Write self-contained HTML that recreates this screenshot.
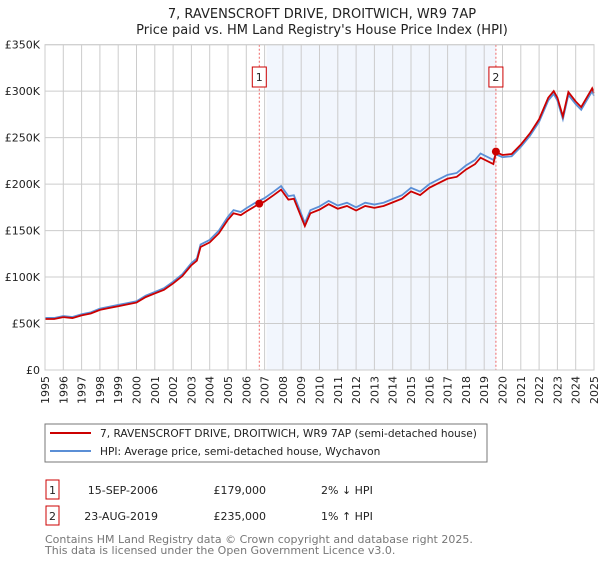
<!DOCTYPE html>
<html><head><meta charset="utf-8"><style>
body{margin:0;background:#fff;font-family:"DejaVu Sans","Liberation Sans",sans-serif;}
svg text{font-family:"DejaVu Sans","Liberation Sans",sans-serif;}
</style></head><body>
<svg id="c" width="600" height="560" xmlns="http://www.w3.org/2000/svg">
<text x="322" y="18" font-size="13" text-anchor="middle" fill="#222">7, RAVENSCROFT DRIVE, DROITWICH, WR9 7AP</text>
<text x="322" y="34" font-size="13" text-anchor="middle" fill="#222">Price paid vs. HM Land Registry's House Price Index (HPI)</text>
<g id="plot"></g>
<rect x="45" y="424" width="442" height="38" fill="#fff" stroke="#777" stroke-width="1"/>
<line x1="50" y1="433" x2="91" y2="433" stroke="#cc0000" stroke-width="2"/>
<text x="100" y="437" font-size="10.6" fill="#222">7, RAVENSCROFT DRIVE, DROITWICH, WR9 7AP (semi-detached house)</text>
<line x1="50" y1="451" x2="91" y2="451" stroke="#5b8fd6" stroke-width="2"/>
<text x="100" y="455" font-size="10.6" fill="#222">HPI: Average price, semi-detached house, Wychavon</text>
<g font-size="11" fill="#222">
<rect x="46" y="480" width="13" height="19" fill="#fff" stroke="#cc0000"/>
<text x="52.5" y="494" text-anchor="middle">1</text>
<text x="158" y="494" text-anchor="end">15-SEP-2006</text>
<text x="266" y="494" text-anchor="end">£179,000</text>
<text x="321" y="494">2% ↓ HPI</text>
</g>
<g font-size="11" fill="#222">
<rect x="46" y="506" width="13" height="19" fill="#fff" stroke="#cc0000"/>
<text x="52.5" y="520" text-anchor="middle">2</text>
<text x="158" y="520" text-anchor="end">23-AUG-2019</text>
<text x="266" y="520" text-anchor="end">£235,000</text>
<text x="321" y="520">1% ↑ HPI</text>
</g>
<text x="45" y="543" font-size="11" fill="#777">Contains HM Land Registry data © Crown copyright and database right 2025.</text>
<text x="45" y="554" font-size="11" fill="#777">This data is licensed under the Open Government Licence v3.0.</text>
</svg>
<script>
const hpiYears=[1995,1995.5,1996,1996.5,1997,1997.5,1998,1998.5,1999,1999.5,2000,2000.5,2001,2001.5,2002,2002.5,2003,2003.3,2003.5,2004,2004.5,2005,2005.3,2005.7,2006,2006.5,2007,2007.5,2007.9,2008.3,2008.6,2009,2009.2,2009.5,2010,2010.5,2011,2011.5,2012,2012.5,2013,2013.5,2014,2014.5,2015,2015.5,2016,2016.5,2017,2017.5,2018,2018.5,2018.8,2019.5,2019.64,2020,2020.5,2021,2021.5,2022,2022.5,2022.8,2023,2023.3,2023.6,2024,2024.3,2024.6,2024.9,2025];
const hpiValues=[56,56,58,57,60,62,66,68,70,72,74,80,84,88,95,103,115,120,135,140,150,165,172,170,174,180,185,192,198,187,188,168,158,172,176,182,177,180,175,180,178,180,184,188,196,192,200,205,210,212,220,226,233,226,232,229,230,240,252,267,290,297,290,270,296,286,280,290,300,295];
const saleDates=[2006.71,2019.64];
const salePrices=[179,235];
const saleHpi=[182.6,232.6];
const yTicks=[0,50,100,150,200,250,300,350];
const yTickLabels=["£0","£50K","£100K","£150K","£200K","£250K","£300K","£350K"];
const xTicks=[1995,1996,1997,1998,1999,2000,2001,2002,2003,2004,2005,2006,2007,2008,2009,2010,2011,2012,2013,2014,2015,2016,2017,2018,2019,2020,2021,2022,2023,2024,2025];

const NS="http://www.w3.org/2000/svg";
const g=document.getElementById('plot');
const X0=45,X1=594,Y0=370,Y1=44.7;
const xs=t=>X0+(t-1995)/30*(X1-X0);
const ys=v=>Y0-v/350*(Y0-Y1);
function mk(tag,attrs){const e=document.createElementNS(NS,tag);for(const k in attrs)e.setAttribute(k,attrs[k]);g.appendChild(e);return e;}

const sh=mk('rect',{x:xs(2007.1),y:Y1,width:xs(saleDates[1])-xs(2007.1),height:Y0-Y1,fill:'#f2f6fd'});



xTicks.forEach(t=>{
 const l=mk('line',{x1:xs(t),x2:xs(t),y1:Y1,y2:Y0,stroke:'#ccc','stroke-width':1});
 
 
 const tx=mk('text',{x:0,y:0,'font-size':11,fill:'#222','text-anchor':'end',transform:`translate(${xs(t)+4},${376}) rotate(-90)`});
 tx.textContent=t;
 
 
});
yTicks.forEach((v,i)=>{
 const l=mk('line',{x1:X0,x2:X1,y1:ys(v),y2:ys(v),stroke:'#ccc','stroke-width':1});
 
 
 const tx=mk('text',{x:40,y:ys(v)+4,'font-size':11,fill:'#222','text-anchor':'end'});
 tx.textContent=yTickLabels[i];
 
 
});

saleDates.forEach((d,i)=>{
 const l=mk('line',{x1:xs(d),x2:xs(d),y1:Y1,y2:Y0,stroke:'#e66','stroke-width':1,'stroke-dasharray':'2,2'});
 
 
 const b=mk('rect',{x:xs(d)-7,y:67,width:14,height:20,fill:'#fff',stroke:'#cc0000'});
 
 
 const t=mk('text',{x:xs(d),y:81,'font-size':11,'text-anchor':'middle',fill:'#222'});
 t.textContent=String(i+1);
 
 
});

const hp=mk('polyline',{points:hpiYears.map((t,i)=>xs(t)+','+ys(hpiValues[i])).join(' '),fill:'none',stroke:'#5b8fd6','stroke-width':1.8});


const f=hpiYears.map(t=>t<saleDates[1]?salePrices[0]/saleHpi[0]:salePrices[1]/saleHpi[1]);
const rp=mk('polyline',{points:hpiYears.map((t,i)=>xs(t)+','+ys(hpiValues[i]*f[i])).join(' '),fill:'none',stroke:'#cc0000','stroke-width':1.8});


saleDates.forEach((d,i)=>{
 const c=mk('circle',{cx:xs(d),cy:ys(salePrices[i]),r:4,fill:'#cc0000'});
 
 
});
const ax=mk('rect',{x:X0,y:Y1,width:X1-X0,height:Y0-Y1,fill:'none',stroke:'#ccc'});


</script>
</body></html>
